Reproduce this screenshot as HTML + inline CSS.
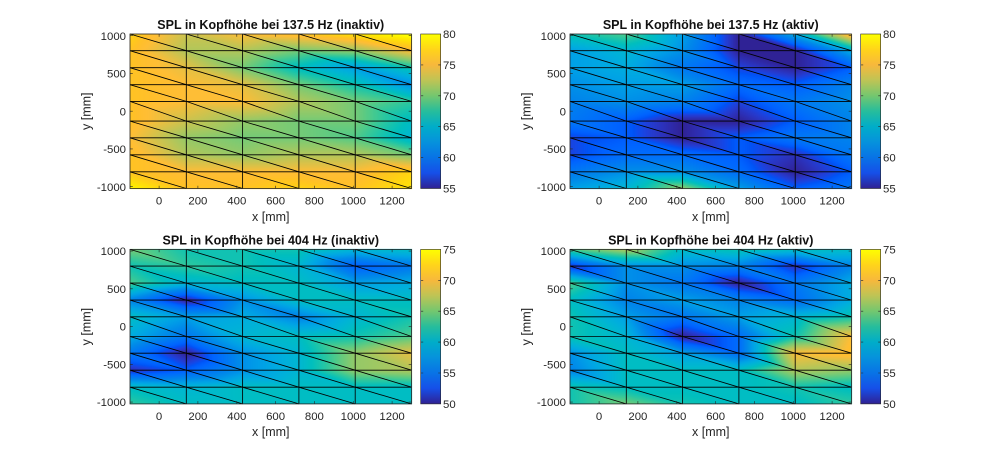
<!DOCTYPE html>
<html><head><meta charset="utf-8">
<style>
html,body{margin:0;padding:0;background:#fff;}
#wrap{position:relative;width:1000px;height:454px;overflow:hidden;background:#fff;}
#wrap canvas,#wrap svg{position:absolute;left:0;top:0;}
text{font-family:"Liberation Sans",Arial,sans-serif;fill:#262626;}
.tk{font-size:11.4px;}
.lb{font-size:12.5px;}
.tt{font-size:12.5px;font-weight:bold;fill:#111;}
</style></head><body>
<div id="wrap">
<svg width="1000" height="454">
<rect x="130" y="34" width="281.5" height="154.5" fill="#dcb84a"/>
<rect x="570" y="34" width="281.5" height="154.5" fill="#2a80ee"/>
<rect x="130" y="249.4" width="281.5" height="154.5" fill="#14aacc"/>
<rect x="570" y="249.4" width="281.5" height="154.5" fill="#169ed8"/>
</svg>
<canvas id="c" width="1000" height="454"></canvas>
<svg width="1000" height="454">
<defs>
<linearGradient id="pg" x1="0" y1="1" x2="0" y2="0">
<stop offset="0" stop-color="#302193"/>
<stop offset="0.1" stop-color="#164fe8"/>
<stop offset="0.2" stop-color="#0873e6"/>
<stop offset="0.3" stop-color="#0692dc"/>
<stop offset="0.4" stop-color="#00adc9"/>
<stop offset="0.5" stop-color="#26bd9c"/>
<stop offset="0.6" stop-color="#74c76f"/>
<stop offset="0.7" stop-color="#bec455"/>
<stop offset="0.8" stop-color="#f7b83c"/>
<stop offset="0.9" stop-color="#ffd41a"/>
<stop offset="1" stop-color="#fdff00"/>
</linearGradient>
<g id="mesh" fill="none">
<g stroke="#000" stroke-width="0.85">
<path d="M56.3 0V154.5M112.6 0V154.5M168.9 0V154.5M225.2 0V154.5"/>
<path d="M0 16.7H281.5M0 33.7H281.5M0 50.7H281.5M0 67.4H281.5M0 87.1H281.5M0 103.8H281.5M0 120.8H281.5M0 137.8H281.5"/>
<path d="M0 0L56.3 16.7 112.6 33.7 168.9 50.7 225.2 67.4 281.5 87.1M0 16.7L56.3 33.7 112.6 50.7 168.9 67.4 225.2 87.1 281.5 103.8M0 33.7L56.3 50.7 112.6 67.4 168.9 87.1 225.2 103.8 281.5 120.8M0 50.7L56.3 67.4 112.6 87.1 168.9 103.8 225.2 120.8 281.5 137.8M0 67.4L56.3 87.1 112.6 103.8 168.9 120.8 225.2 137.8 281.5 154.5M0 87.1L56.3 103.8 112.6 120.8 168.9 137.8 225.2 154.5M0 103.8L56.3 120.8 112.6 137.8 168.9 154.5M0 120.8L56.3 137.8 112.6 154.5M0 137.8L56.3 154.5M56.3 0L112.6 16.7 168.9 33.7 225.2 50.7 281.5 67.4M112.6 0L168.9 16.7 225.2 33.7 281.5 50.7M168.9 0L225.2 16.7 281.5 33.7M225.2 0L281.5 16.7"/>
</g>
<rect x="0" y="0" width="281.5" height="154.5" stroke="#262626" stroke-width="0.8"/>
<path stroke="#262626" stroke-width="0.6" d="M29.1 154.5v-2.8M67.9 154.5v-2.8M106.8 154.5v-2.8M145.6 154.5v-2.8M184.4 154.5v-2.8M223.3 154.5v-2.8M262.1 154.5v-2.8M29.1 0v2.8M67.9 0v2.8M106.8 0v2.8M145.6 0v2.8M184.4 0v2.8M223.3 0v2.8M262.1 0v2.8M0 1.7h2.8M0 39.45h2.8M0 77.2h2.8M0 114.95h2.8M0 152.7h2.8M281.5 1.7h-2.8M281.5 39.45h-2.8M281.5 77.2h-2.8M281.5 114.95h-2.8M281.5 152.7h-2.8"/>
<rect x="290.7" y="0" width="20" height="154.5" fill="url(#pg)" stroke="#262626" stroke-width="0.6"/>
<path stroke="#262626" stroke-width="0.6" d="M310.7 30.9h-2.5M310.7 61.8h-2.5M310.7 92.7h-2.5M310.7 123.6h-2.5M290.7 30.9h2.5M290.7 61.8h2.5M290.7 92.7h2.5M290.7 123.6h2.5"/>
</g>
</defs>

<!-- Plot A -->
<g>
<use href="#mesh" transform="translate(130,34)"/>
<text class="tt" x="270.75" y="29" text-anchor="middle">SPL in Kopfhöhe bei 137.5 Hz (inaktiv)</text>
<g text-anchor="end">
<text class="tk" x="126" y="39.8">1000</text>
<text class="tk" x="126" y="77.5">500</text>
<text class="tk" x="126" y="115.3">0</text>
<text class="tk" x="126" y="153">-500</text>
<text class="tk" x="126" y="190.8">-1000</text>
</g>
<g text-anchor="middle">
<text class="tk" x="159.1" y="204.6">0</text>
<text class="tk" x="197.9" y="204.6">200</text>
<text class="tk" x="236.8" y="204.6">400</text>
<text class="tk" x="275.6" y="204.6">600</text>
<text class="tk" x="314.4" y="204.6">800</text>
<text class="tk" x="353.3" y="204.6">1000</text>
<text class="tk" x="392.1" y="204.6">1200</text>
<text class="lb" x="270.75" y="220.8">x [mm]</text>
<text class="lb" x="0" y="0" transform="translate(90.5,111.25) rotate(-90)">y [mm]</text>
</g>
<text class="tk" x="443" y="38">80</text>
<text class="tk" x="443" y="68.9">75</text>
<text class="tk" x="443" y="99.8">70</text>
<text class="tk" x="443" y="130.7">65</text>
<text class="tk" x="443" y="161.6">60</text>
<text class="tk" x="443" y="192.5">55</text>
</g>

<!-- Plot B -->
<g transform="translate(440,0)">
<use href="#mesh" transform="translate(130,34)"/>
<text class="tt" x="270.75" y="29" text-anchor="middle">SPL in Kopfhöhe bei 137.5 Hz (aktiv)</text>
<g text-anchor="end">
<text class="tk" x="126" y="39.8">1000</text>
<text class="tk" x="126" y="77.5">500</text>
<text class="tk" x="126" y="115.3">0</text>
<text class="tk" x="126" y="153">-500</text>
<text class="tk" x="126" y="190.8">-1000</text>
</g>
<g text-anchor="middle">
<text class="tk" x="159.1" y="204.6">0</text>
<text class="tk" x="197.9" y="204.6">200</text>
<text class="tk" x="236.8" y="204.6">400</text>
<text class="tk" x="275.6" y="204.6">600</text>
<text class="tk" x="314.4" y="204.6">800</text>
<text class="tk" x="353.3" y="204.6">1000</text>
<text class="tk" x="392.1" y="204.6">1200</text>
<text class="lb" x="270.75" y="220.8">x [mm]</text>
<text class="lb" x="0" y="0" transform="translate(90.5,111.25) rotate(-90)">y [mm]</text>
</g>
<text class="tk" x="443" y="38">80</text>
<text class="tk" x="443" y="68.9">75</text>
<text class="tk" x="443" y="99.8">70</text>
<text class="tk" x="443" y="130.7">65</text>
<text class="tk" x="443" y="161.6">60</text>
<text class="tk" x="443" y="192.5">55</text>
</g>

<!-- Plot C -->
<g transform="translate(0,215.4)">
<use href="#mesh" transform="translate(130,34)"/>
<text class="tt" x="270.75" y="29" text-anchor="middle">SPL in Kopfhöhe bei 404 Hz (inaktiv)</text>
<g text-anchor="end">
<text class="tk" x="126" y="39.8">1000</text>
<text class="tk" x="126" y="77.5">500</text>
<text class="tk" x="126" y="115.3">0</text>
<text class="tk" x="126" y="153">-500</text>
<text class="tk" x="126" y="190.8">-1000</text>
</g>
<g text-anchor="middle">
<text class="tk" x="159.1" y="204.6">0</text>
<text class="tk" x="197.9" y="204.6">200</text>
<text class="tk" x="236.8" y="204.6">400</text>
<text class="tk" x="275.6" y="204.6">600</text>
<text class="tk" x="314.4" y="204.6">800</text>
<text class="tk" x="353.3" y="204.6">1000</text>
<text class="tk" x="392.1" y="204.6">1200</text>
<text class="lb" x="270.75" y="220.8">x [mm]</text>
<text class="lb" x="0" y="0" transform="translate(90.5,111.25) rotate(-90)">y [mm]</text>
</g>
<text class="tk" x="443" y="38">75</text>
<text class="tk" x="443" y="68.9">70</text>
<text class="tk" x="443" y="99.8">65</text>
<text class="tk" x="443" y="130.7">60</text>
<text class="tk" x="443" y="161.6">55</text>
<text class="tk" x="443" y="192.5">50</text>
</g>

<!-- Plot D -->
<g transform="translate(440,215.4)">
<use href="#mesh" transform="translate(130,34)"/>
<text class="tt" x="270.75" y="29" text-anchor="middle">SPL in Kopfhöhe bei 404 Hz (aktiv)</text>
<g text-anchor="end">
<text class="tk" x="126" y="39.8">1000</text>
<text class="tk" x="126" y="77.5">500</text>
<text class="tk" x="126" y="115.3">0</text>
<text class="tk" x="126" y="153">-500</text>
<text class="tk" x="126" y="190.8">-1000</text>
</g>
<g text-anchor="middle">
<text class="tk" x="159.1" y="204.6">0</text>
<text class="tk" x="197.9" y="204.6">200</text>
<text class="tk" x="236.8" y="204.6">400</text>
<text class="tk" x="275.6" y="204.6">600</text>
<text class="tk" x="314.4" y="204.6">800</text>
<text class="tk" x="353.3" y="204.6">1000</text>
<text class="tk" x="392.1" y="204.6">1200</text>
<text class="lb" x="270.75" y="220.8">x [mm]</text>
<text class="lb" x="0" y="0" transform="translate(90.5,111.25) rotate(-90)">y [mm]</text>
</g>
<text class="tk" x="443" y="38">75</text>
<text class="tk" x="443" y="68.9">70</text>
<text class="tk" x="443" y="99.8">65</text>
<text class="tk" x="443" y="130.7">60</text>
<text class="tk" x="443" y="161.6">55</text>
<text class="tk" x="443" y="192.5">50</text>
</g>
</svg>
</div>
<script>
(function(){
var P=[0.2081,0.1663,0.5292,0.2116,0.1898,0.5777,0.2123,0.2138,0.6270,0.2081,0.2386,0.6771,0.1959,0.2645,0.7279,0.1707,0.2919,0.7792,0.1253,0.3242,0.8303,0.0591,0.3598,0.8683,0.0117,0.3875,0.8820,0.0060,0.4086,0.8828,0.0165,0.4266,0.8786,0.0329,0.4430,0.8720,0.0498,0.4586,0.8641,0.0629,0.4737,0.8554,0.0723,0.4887,0.8467,0.0779,0.5040,0.8384,0.0793,0.5200,0.8312,0.0749,0.5375,0.8263,0.0641,0.5570,0.8240,0.0488,0.5772,0.8228,0.0343,0.5966,0.8199,0.0265,0.6137,0.8135,0.0239,0.6287,0.8038,0.0231,0.6418,0.7913,0.0228,0.6535,0.7768,0.0267,0.6642,0.7607,0.0384,0.6743,0.7436,0.0590,0.6838,0.7254,0.0843,0.6928,0.7062,0.1133,0.7015,0.6859,0.1453,0.7098,0.6646,0.1801,0.7177,0.6424,0.2178,0.7250,0.6193,0.2586,0.7317,0.5954,0.3022,0.7376,0.5712,0.3482,0.7424,0.5473,0.3953,0.7459,0.5244,0.4420,0.7481,0.5033,0.4871,0.7491,0.4840,0.5300,0.7491,0.4661,0.5709,0.7485,0.4494,0.6099,0.7473,0.4337,0.6473,0.7456,0.4188,0.6834,0.7435,0.4044,0.7184,0.7411,0.3905,0.7525,0.7384,0.3768,0.7858,0.7356,0.3633,0.8185,0.7327,0.3498,0.8507,0.7299,0.3360,0.8824,0.7274,0.3217,0.9139,0.7258,0.3063,0.9450,0.7261,0.2886,0.9739,0.7314,0.2666,0.9938,0.7455,0.2403,0.9990,0.7653,0.2164,0.9955,0.7861,0.1967,0.9880,0.8066,0.1794,0.9789,0.8271,0.1633,0.9697,0.8481,0.1475,0.9626,0.8705,0.1309,0.9589,0.8949,0.1132,0.9598,0.9218,0.0948,0.9661,0.9514,0.0755,0.9763,0.9831,0.0538];
function cl(v){return v<0?0:(v>255?255:v);}
function cm(t){if(t<0)t=0;if(t>1)t=1;var x=t*63,i=Math.floor(x);if(i>62)i=62;var f=x-i,a=i*3,b=a+3;
var r=(P[a]+(P[b]-P[a])*f)*255,g=(P[a+1]+(P[b+1]-P[a+1])*f)*255,bl=(P[a+2]+(P[b+2]-P[a+2])*f)*255;
var m=(r+g+bl)/3,k=1.25;
return [cl(m+(r-m)*k),cl(m+(g-m)*k),cl(m+(bl-m)*k)];}
var W=281.5,H=154.5;
var Y=[0,16.7,33.7,50.7,67.4,87.1,103.8,120.8,137.8,154.5];
var plots=[
{L:130,T:34,mn:55,mx:80,V:[
[77,73,75,76,78,80],
[76,72,72,70,71,75],
[76,74,70,66,63,67],
[76,75,74,70,67,62],
[76,75,75,72,70,68],
[76,73,71,70,70,66],
[75,71,70,70,69,65],
[76,72,71,72,72,70],
[76,75,75,75,75,77],
[79,76,76,77,76,78]]},
{L:570,T:34,mn:55,mx:80,V:[
[67,69,63,55,64,77],
[63,65,62,55,55,64],
[63,64,60,57,55,58],
[62,63,63,59,58,61],
[61,62,61,57,60,62],
[60,58,55,55,58,61],
[57,58,55,58,60,61],
[57,59,59,58,56,60],
[60,62,62,59,55,58],
[63,65,71,63,58,60]]},
{L:130,T:249.4,mn:50,mx:75,V:[
[65,62,62,62,60,61],
[62,63,62,60,53,55],
[64,60,61,61,58,59],
[56,50,57,61,61,61],
[61,58,59,56,60,62],
[59,55,60,61,62,64],
[55,50,57,60,66,69],
[51,53,57,60,66,67],
[61,60,61,61,61,61],
[63,61,61,61,61,61]]},
{L:570,T:249.4,mn:50,mx:75,V:[
[64,67,61,62,61,61],
[51,57,57,56,51,56],
[64,57,55,50,55,59],
[61,56,58,56,54,59],
[62,58,55,58,60,62],
[62,60,50,54,62,70],
[57,61,58,54,70,71],
[56,61,61,61,67,66],
[62,61,61,61,62,61],
[62,65,62,61,61,63]]}
];
var c=document.getElementById('c');if(!c.getContext)return;
var ctx=c.getContext('2d');var img=ctx.createImageData(1000,454);var d=img.data;
plots.forEach(function(p){
 var x0=Math.floor(p.L),x1=Math.ceil(p.L+W),y0=Math.floor(p.T),y1=Math.ceil(p.T+H);
 for(var py=y0;py<y1;py++){
  var y=py+0.5-p.T;if(y<0||y>H)continue;
  var j=0;while(j<8&&y>Y[j+1])j++;
  var t=(y-Y[j])/(Y[j+1]-Y[j]);
  for(var px=x0;px<x1;px++){
   var x=px+0.5-p.L;if(x<0||x>W)continue;
   var u=x/W*5,i=Math.floor(u);if(i>4)i=4;var s=u-i;
   var a=p.V[j][i],b=p.V[j][i+1],cc=p.V[j+1][i],dd=p.V[j+1][i+1],v;
   if(s>=t)v=a+(b-a)*s+(dd-b)*t;else v=a+(cc-a)*t+(dd-cc)*s;
   var col=cm((v-p.mn)/(p.mx-p.mn));var k=(py*1000+px)*4;
   d[k]=col[0];d[k+1]=col[1];d[k+2]=col[2];d[k+3]=255;
  }
 }
});
ctx.putImageData(img,0,0);
})();
</script>
</body></html>
